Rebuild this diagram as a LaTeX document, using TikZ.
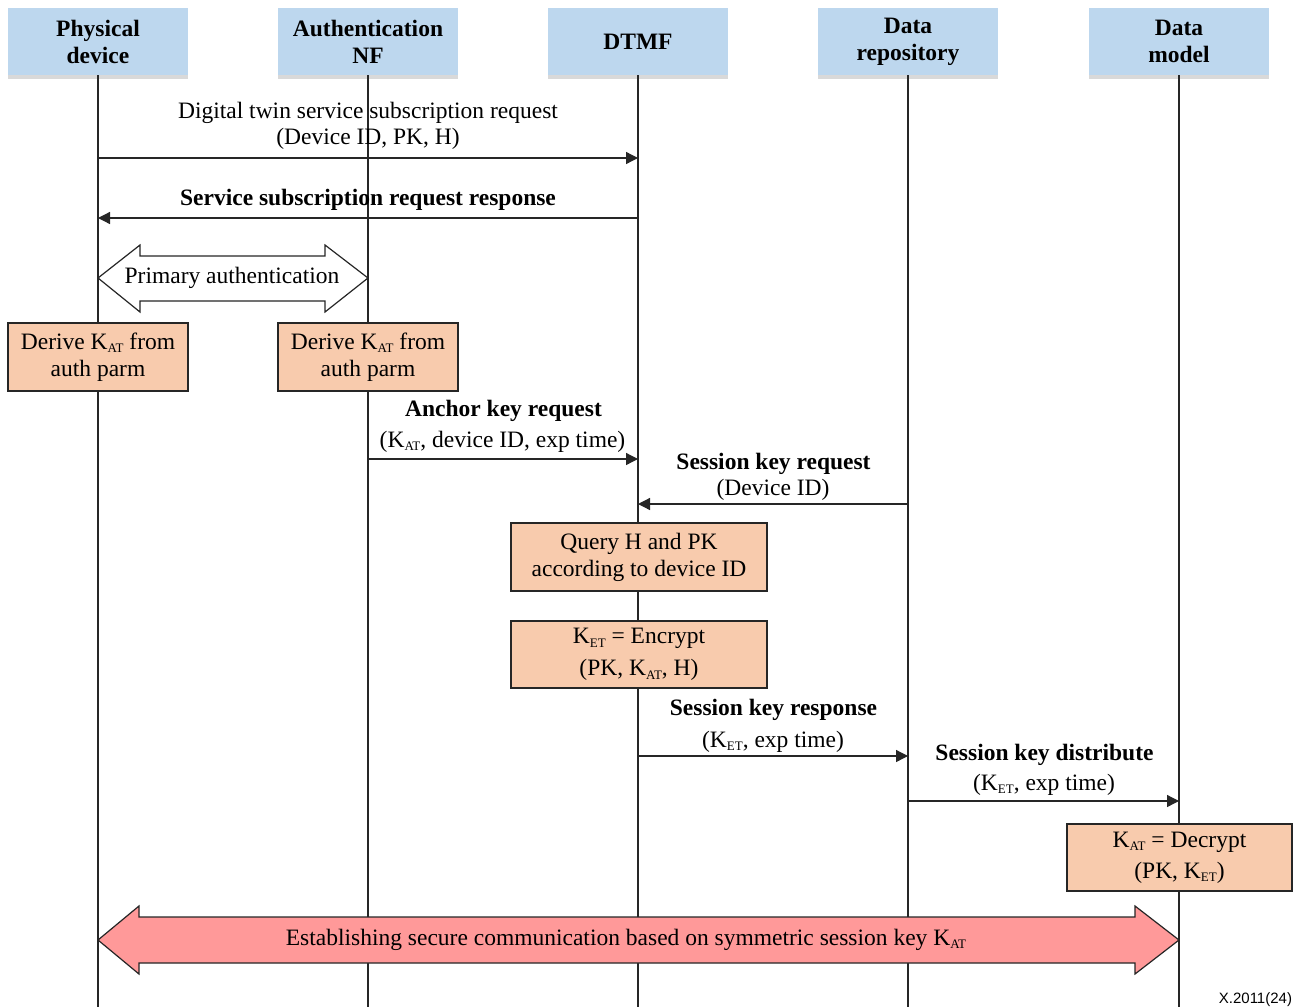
\documentclass[tikz,border=0pt]{standalone}
\usepackage{fontspec}
\setmainfont{Liberation Serif}
\newfontfamily\labfont{Liberation Sans}
\usetikzlibrary{arrows.meta,calc}
\definecolor{hdr}{HTML}{BDD7EE}
\definecolor{proc}{HTML}{F8CBAD}
\definecolor{estc}{HTML}{FF9999}
\definecolor{ln}{HTML}{262626}
\newcommand{\sub}[1]{\raisebox{-3.5pt}{\fontsize{13}{13}\selectfont #1}}
\begin{document}
\begin{tikzpicture}[x=1pt,y=-1pt,
  every node/.style={inner sep=0pt, outer sep=0pt, font=\fontsize{23.5}{27}\selectfont},
  hdrbox/.style={fill=hdr, minimum width=180pt, minimum height=67pt, align=center,
    font=\fontsize{23.5}{27}\selectfont\bfseries},
  shadowbar/.style={fill=black!15},
  procbox/.style={draw=ln, line width=1.2pt, fill=proc, align=center},
  life/.style={draw=ln, line width=1.3pt},
  msg/.style={draw=ln, line width=1.3pt, -{Triangle[length=12pt,width=12pt]}},
  lbl/.style={anchor=base},
  blbl/.style={anchor=base, font=\fontsize{23.5}{27}\selectfont\bfseries},
  bigarrow/.style={draw=ln, line width=1.2pt, line join=miter},
]
\useasboundingbox (0,0) rectangle (1304,1007);

% header shadows
\foreach \x in {98,368,638,908,1179}{
  \fill[shadowbar] (\x-90,75) rectangle (\x+90,79);
}
% headers
\node[hdrbox] (h1) at (98,41.5) {Physical\\device};
\node[hdrbox] (h2) at (368,41.5) {Authentication\\NF};
\node[hdrbox] (h3) at (638,41.5) {DTMF};
\node[hdrbox] (h4) at (908,41.5) {Data\\repository};
\node[hdrbox] (h5) at (1179,41.5) {Data\\model};

% lifeline ends
\coordinate (e1) at (98,1007);
\coordinate (e2) at (368,1007);
\coordinate (e3) at (638,1007);
\coordinate (e4) at (908,1007);
\coordinate (e5) at (1179,1007);
\draw[life] (h1.south) -- (e1);
\draw[life] (h2.south) -- (e2);
\draw[life] (h3.south) -- (e3);
\draw[life] (h4.south) -- (e4);
\draw[life] (h5.south) -- (e5);

% message 1
\coordinate (m1s) at (98,158);
\coordinate (m1e) at (638,158);
\draw[msg] (m1s) -- (m1e);
\node[lbl] (m1a) at (368,118) {Digital twin service subscription request};
\node[lbl] (m1b) at (368,144) {(Device ID, PK, H)};

% message 2
\coordinate (m2s) at (638,218);
\coordinate (m2e) at (98,218);
\draw[msg] (m2s) -- (m2e);
\node[blbl] (m2a) at (368,205) {Service subscription request response};

% primary authentication
\coordinate (pa) at (98,278);
\coordinate (pb) at (368,278);
\filldraw[bigarrow, fill=white] (pa) -- ($(pa)+(42,-33)$) -- ($(pa)+(42,-22)$) -- ($(pb)+(-43,-22)$)
  -- ($(pb)+(-43,-33)$) -- (pb) -- ($(pb)+(-43,34)$) -- ($(pb)+(-43,23)$) -- ($(pa)+(42,23)$)
  -- ($(pa)+(42,34)$) -- cycle;
\node[lbl] (pauth) at (232,283) {Primary authentication};

% derive boxes
\node[procbox, minimum width=180pt, minimum height=68pt] (d1) at (98,357)
  {Derive K\sub{AT} from\\auth parm};
\node[procbox, minimum width=180pt, minimum height=68pt] (d2) at (368,357)
  {Derive K\sub{AT} from\\auth parm};

% anchor key request
\coordinate (m4s) at (368,459);
\coordinate (m4e) at (638,459);
\draw[msg] (m4s) -- (m4e);
\node[blbl] (m4a) at (503.5,416) {Anchor key request};
\node[lbl] (m4b) at (502.5,447) {(K\sub{AT}, device ID, exp time)};

% session key request
\coordinate (m5s) at (908,504);
\coordinate (m5e) at (638,504);
\draw[msg] (m5s) -- (m5e);
\node[blbl] (m5a) at (773.5,469) {Session key request};
\node[lbl] (m5b) at (773,495) {(Device ID)};

% query and encrypt
\node[procbox, minimum width=256pt, minimum height=68pt] (q) at (639,557)
  {Query H and PK\\according to device ID};
\node[procbox, minimum width=256pt, minimum height=67pt] (enc) at (639,654.5)
  {K\sub{ET} = Encrypt\\[5pt](PK, K\sub{AT}, H)};

% session key response
\coordinate (m7s) at (638,756);
\coordinate (m7e) at (908,756);
\draw[msg] (m7s) -- (m7e);
\node[blbl] (m7a) at (773.5,715) {Session key response};
\node[lbl] (m7b) at (773,747) {(K\sub{ET}, exp time)};

% session key distribute
\coordinate (m8s) at (908,801);
\coordinate (m8e) at (1179,801);
\draw[msg] (m8s) -- (m8e);
\node[blbl] (m8a) at (1044.5,760) {Session key distribute};
\node[lbl] (m8b) at (1044,790) {(K\sub{ET}, exp time)};

% decrypt
\node[procbox, minimum width=225pt, minimum height=67pt] (dec) at (1179.5,857.5)
  {K\sub{AT} = Decrypt\\[4pt](PK, K\sub{ET})};

% establishing secure communication
\coordinate (ea) at (98,940);
\coordinate (eb) at (1179,940);
\filldraw[bigarrow, fill=estc] (ea) -- ($(ea)+(41,-34)$) -- ($(ea)+(41,-23)$) -- ($(eb)+(-44,-23)$)
  -- ($(eb)+(-44,-34)$) -- (eb) -- ($(eb)+(-44,34)$) -- ($(eb)+(-44,23)$) -- ($(ea)+(41,23)$)
  -- ($(ea)+(41,34)$) -- cycle;
\node[lbl] (est) at (626,945) {Establishing secure communication based on symmetric session key K\sub{AT}};

% figure id
\node[anchor=base east, font=\labfont\fontsize{15}{18}\selectfont] (fid) at (1292,1003) {X.2011(24)};
\end{tikzpicture}
\end{document}
